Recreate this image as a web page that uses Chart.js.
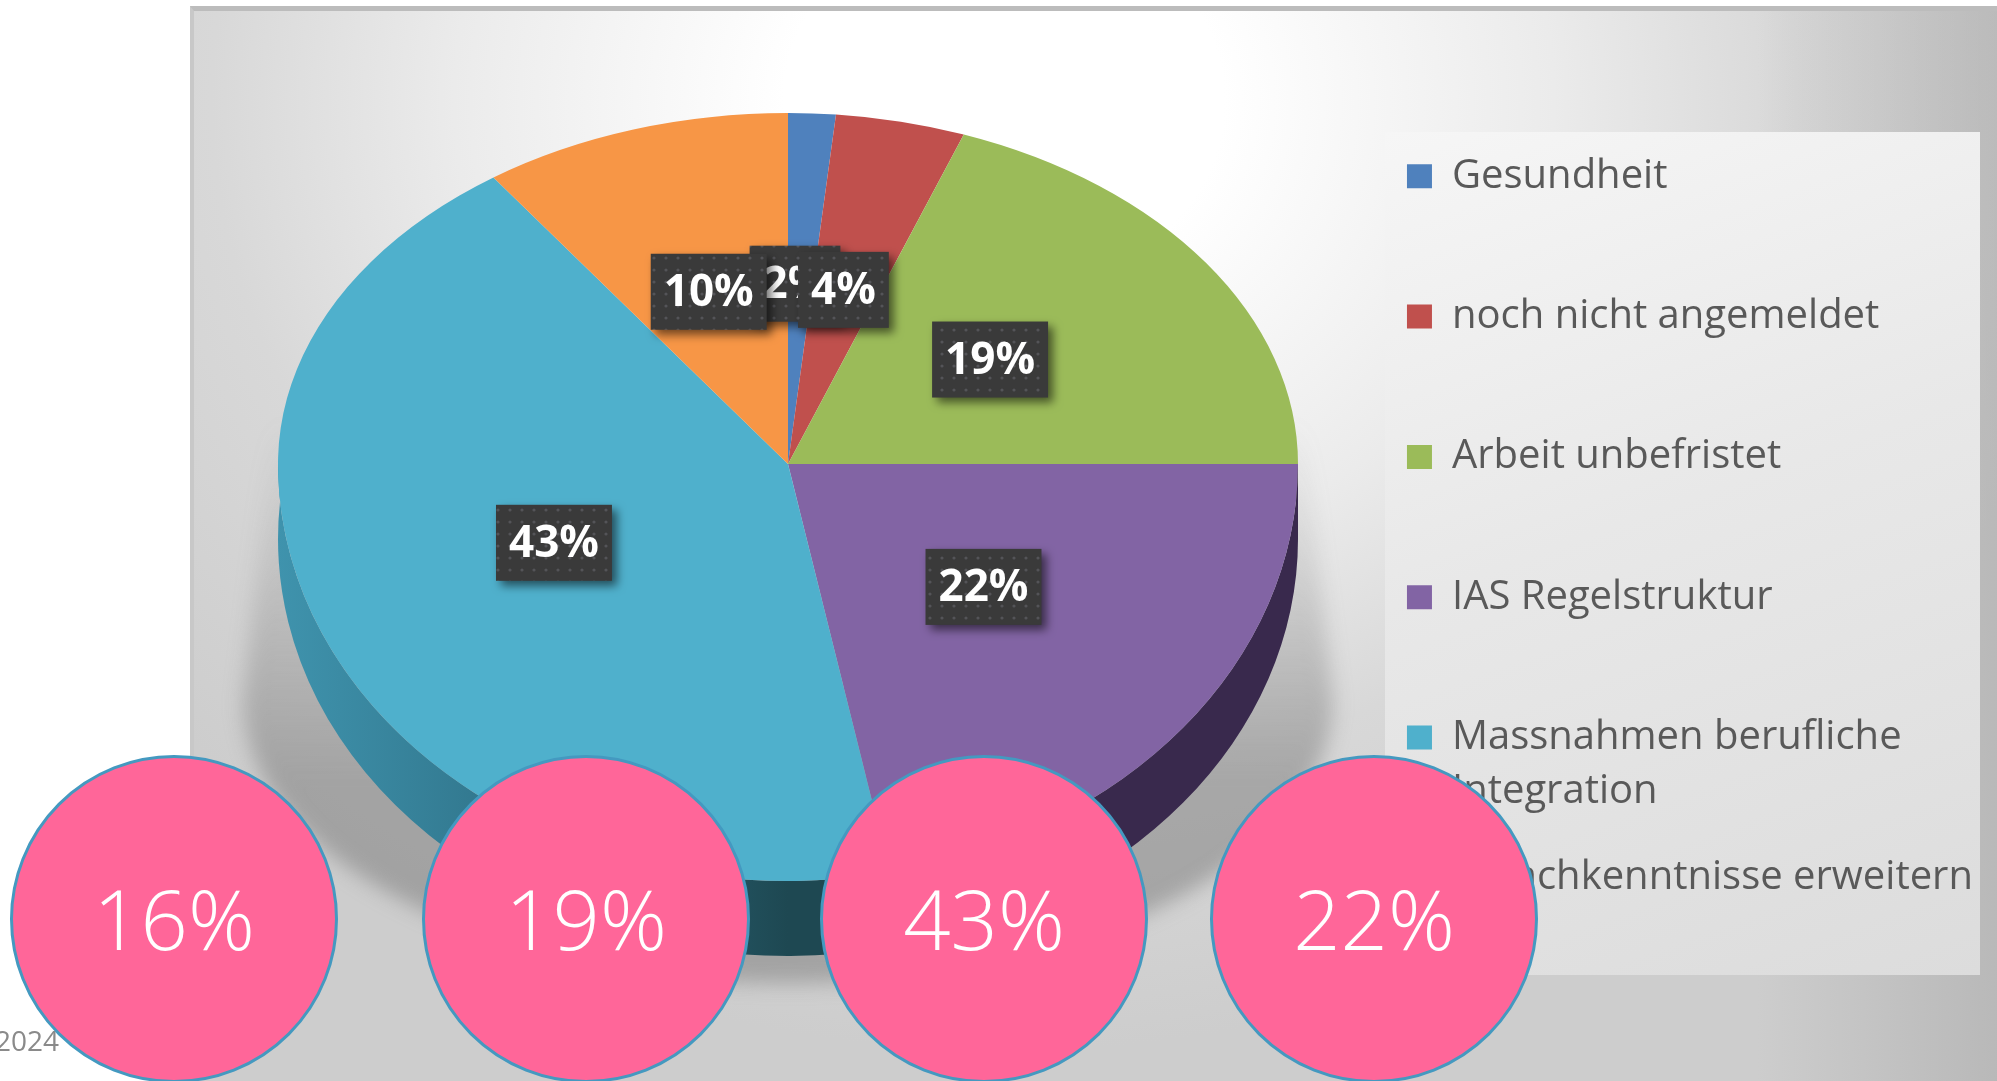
<!DOCTYPE html>
<html>
<head>
<meta charset="utf-8">
<title>Pie</title>
<script src="https://cdn.jsdelivr.net/npm/chart.js@4"></script>
<style>
  html, body { margin: 0; padding: 0; background: #fff; overflow: hidden; }
  #stage { position: relative; width: 1997px; height: 1081px; overflow: hidden; font-family: "Open Sans", sans-serif; }
  #photo { position: absolute; left: 190px; top: 6px; right: 0; bottom: 0; box-sizing: border-box;
    border-top: 5px solid #bcbcbc; border-left: 4px solid #c8c8c8;
    background:
      linear-gradient(to left, rgba(160,160,160,0.45), rgba(160,160,160,0) 240px),
      radial-gradient(ellipse 1100px 950px at 810px 90px, #fff 0%, #fff 20%, #ebebeb 50%, #d8d8d8 72%, #cdcdcd 100%); }
  #legendBox { position: absolute; left: 1385px; top: 132px; width: 595px; height: 843px;
    background: linear-gradient(160deg, #f6f6f6 0%, #e8e8e8 45%, #dcdcdc 100%); }
  #myChart { position: absolute; left: 0; top: 0; }
  #year { position: absolute; left: -5px; top: 1021px; font-size: 28px; color: #8a8a8a; }
  .bubble { position: absolute; top: 755px; width: 328px; height: 328px; box-sizing: border-box; border-radius: 50%;
    border: 3px solid #4499c0; background: #ff6699; color: #fff; font-weight: 300; font-size: 83px; padding-bottom: 4px;
    display: flex; align-items: center; justify-content: center; }
</style>
</head>
<body>
<div id="stage">
  <div id="photo"></div>
  <div id="legendBox"></div>
  <canvas id="myChart" width="1997" height="1081"></canvas>
  <div id="year">2024</div>
</div>
<script>
var categories = ["Gesundheit", "noch nicht angemeldet", "Arbeit unbefristet", "IAS Regelstruktur", "Massnahmen berufliche", "Sprachkenntnisse erweitern"];
// wedge sizes, they round to the printed percentages
var shares = [1.5, 4.1, 19.4, 21.8, 43.4, 9.8];
var bubbleValues = [16, 19, 43, 22];

var colors = ["#4f81bd", "#c0504d", "#9bbb59", "#8264a4", "#4fb0cc", "#f79646"];
var sideColors = ["#2a4566", "#6e2b29", "#566a2f", "#39294d", "#2f7288", "#8a5325"];
var labelShiftX = [-5, -1, -7, -2, 0, -2];
var labelShiftY = [0, 2, 1, -4, 1, 0];
var bubbleLeft = [10, 422, 820, 1210];

// where the tilted pie sits on the page
var pieX = 788, pieY = 464, pieRadius = 510;
var upperTilt = 351 / 510, lowerTilt = 417 / 510, depth = 75;

function dotPattern(ctx) {
  var tile = document.createElement("canvas");
  tile.width = 12;
  tile.height = 12;
  var t = tile.getContext("2d");
  t.fillStyle = "#3a3a3a";
  t.fillRect(0, 0, 12, 12);
  t.fillStyle = "#545458";
  t.beginPath();
  t.arc(6, 6, 1.6, 0, Math.PI * 2);
  t.fill();
  return ctx.createPattern(tile, "repeat");
}

function tilted(ctx, el, tilt, lower, fn) {
  ctx.save();
  ctx.beginPath();
  if (lower) ctx.rect(0, pieY, 1997, 1081 - pieY);
  else ctx.rect(0, 0, 1997, pieY);
  ctx.clip();
  ctx.translate(pieX, pieY);
  ctx.scale(1, tilt);
  ctx.translate(-el.x, -el.y);
  fn();
  ctx.restore();
}

var piePlugin = {
  id: "tiltedPie",
  beforeDatasetDraw: function(chart, args) {
    var ctx = chart.ctx;
    var meta = args.meta;
    var first = meta.data[0];

    // soft shadow on the floor
    ctx.save();
    ctx.filter = "blur(10px)";
    var g = ctx.createLinearGradient(0, 420, 0, 780);
    g.addColorStop(0, "rgba(110,110,110,0)");
    g.addColorStop(0.4, "rgba(110,110,110,0.16)");
    g.addColorStop(1, "rgba(110,110,110,0.46)");
    ctx.fillStyle = g;
    ctx.beginPath();
    ctx.moveTo(273, 420);
    ctx.lineTo(1303, 420);
    ctx.lineTo(1333, 700);
    ctx.ellipse(pieX, 700, 545, 283, 0, 0, Math.PI);
    ctx.closePath();
    ctx.fill();
    ctx.restore();

    // side wall
    tilted(ctx, first, lowerTilt, true, function() {
      meta.data.forEach(function(el, i) {
        var fill = sideColors[i];
        if (i == 4) {
          fill = ctx.createLinearGradient(el.x - pieRadius, 0, el.x, 0);
          fill.addColorStop(0, "#3f93ad");
          fill.addColorStop(0.5, "#2f7288");
          fill.addColorStop(1, "#1e4852");
        }
        ctx.fillStyle = fill;
        ctx.beginPath();
        ctx.arc(el.x, el.y + depth / lowerTilt, el.outerRadius, el.startAngle, el.endAngle);
        ctx.arc(el.x, el.y, el.outerRadius, el.endAngle, el.startAngle, true);
        ctx.closePath();
        ctx.fill();
      });
    });

    // top surface, the library's own arcs
    tilted(ctx, first, upperTilt, false, function() { meta.controller.draw(); });
    tilted(ctx, first, lowerTilt, true, function() { meta.controller.draw(); });
    return false;
  },
  afterDatasetsDraw: function(chart) {
    var ctx = chart.ctx;
    var meta = chart.getDatasetMeta(0);
    var pattern = dotPattern(ctx);
    ctx.font = "bold 44px 'Open Sans'";
    ctx.textAlign = "center";
    ctx.textBaseline = "middle";
    meta.data.forEach(function(el, i) {
      var c = el.getCenterPoint();
      var dy = c.y - el.y;
      var x = pieX + (c.x - el.x) + labelShiftX[i];
      var y = pieY + dy * (dy < 0 ? upperTilt : lowerTilt) - 5 + labelShiftY[i];
      var text = Math.round(shares[i]) + "%";
      var w = ctx.measureText(text).width + 26;
      ctx.save();
      ctx.shadowColor = "rgba(0,0,0,0.55)";
      ctx.shadowBlur = 10;
      ctx.shadowOffsetX = 5;
      ctx.shadowOffsetY = 5;
      ctx.fillStyle = pattern;
      ctx.fillRect(x - w / 2, y - 38, w, 76);
      ctx.restore();
      ctx.fillStyle = "#fff";
      ctx.fillText(text, x, y + 2);
    });
  },
  afterDraw: function(chart) {
    // second line of the long legend entry
    var ctx = chart.ctx;
    var hit = chart.legend.legendHitBoxes[4];
    ctx.save();
    ctx.font = "40px 'Open Sans'";
    ctx.fillStyle = "#595959";
    ctx.textAlign = "left";
    ctx.textBaseline = "middle";
    ctx.fillText("Integration", hit.left + 45, hit.top + hit.height / 2 + 54);
    ctx.restore();
  }
};

var canvas = document.getElementById("myChart");
var myNewChart = new Chart(canvas.getContext("2d"), {
  type: "pie",
  data: {
    labels: categories,
    datasets: [{
      data: shares,
      backgroundColor: colors,
      borderWidth: 0,
      radius: pieRadius,
      clip: false
    }]
  },
  options: {
    responsive: false,
    devicePixelRatio: 1,
    animation: false,
    layout: { padding: { top: 56, right: 14 } },
    plugins: {
      tooltip: { enabled: false },
      legend: {
        position: "right",
        align: "start",
        labels: {
          boxWidth: 25,
          boxHeight: 24,
          padding: 100.3,
          color: "#595959",
          font: { family: "'Open Sans'", size: 40 }
        }
      }
    }
  },
  plugins: [piePlugin]
});

var stage = document.getElementById("stage");
bubbleValues.forEach(function(v, i) {
  var d = document.createElement("div");
  d.className = "bubble";
  d.style.left = bubbleLeft[i] + "px";
  d.textContent = v + "%";
  stage.appendChild(d);
});
</script>
</body>
</html>
